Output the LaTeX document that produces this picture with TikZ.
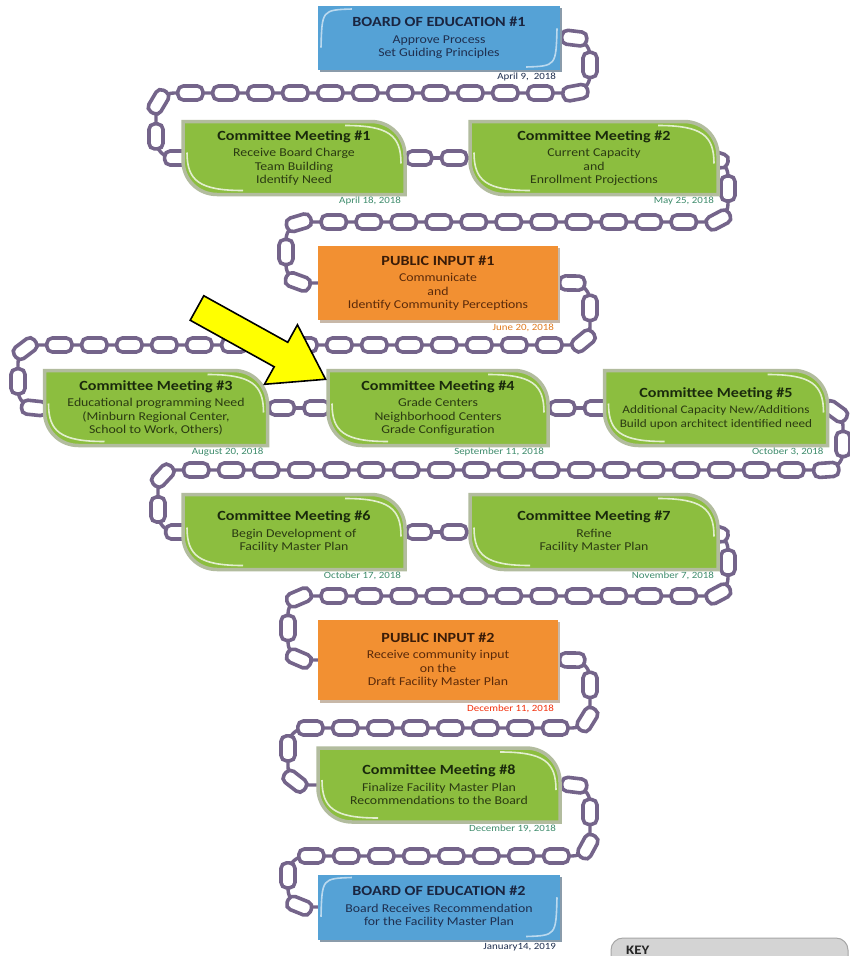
\documentclass[tikz,border=0pt]{standalone}
\usepackage{fontspec}
\setmainfont{Carlito}[FakeStretch=1.15]
\usetikzlibrary{decorations.markings}
\pgfdeclarelayer{background}
\pgfsetlayers{background,main}
\definecolor{cmgreen}{HTML}{8CBE3F}
\definecolor{cmrim}{HTML}{B2BC9E}
\definecolor{bblue}{HTML}{55A2D6}
\definecolor{bshadow}{HTML}{8A9BAA}
\definecolor{porange}{HTML}{F29032}
\definecolor{pshadow}{HTML}{C8B8A8}
\definecolor{chainc}{HTML}{74648A}
\definecolor{cmtitle}{HTML}{1A2A0C}
\definecolor{cmbody}{HTML}{2B3B12}
\definecolor{btitle}{HTML}{1A2540}
\definecolor{bbody}{HTML}{1F2F4F}
\definecolor{ptitle}{HTML}{3A1C08}
\definecolor{pbody}{HTML}{5B2A0A}
\definecolor{cmdatec}{HTML}{3E8C6C}
\definecolor{bdatec}{HTML}{1F2F4F}
\definecolor{pdatec}{HTML}{E07B20}
\definecolor{arrowyellow}{HTML}{FFFF00}
\definecolor{keygray}{HTML}{D4D4D4}
\tikzset{
  boxtext/.style={inner sep=0pt, align=center, font=\fontsize{12}{13.5}\selectfont},
  datest/.style={inner sep=0pt, font=\fontsize{9.5}{11}\selectfont},
  link/.style={draw=chainc, fill=white, line width=3.6, rounded corners=5.5},
  chainpath/.style={draw=chainc, line width=3.4, rounded corners=18,
    decoration={markings, mark=between positions 14pt and 1 step 35pt with {\draw[link] (-12.5,-7) rectangle (12.5,7);}},
    postaction={decorate}},
  hilite/.style={draw=white, opacity=0.75, line width=1.6},
}
\newcommand\ttl[2]{{\fontsize{14}{16}\selectfont\bfseries\color{#1}#2}}
% name, x, y, w, h, text, date
\newcommand\greenbox[7]{%
  \begin{scope}[shift={(#2,#3)}]
    \path[fill=cmgreen, draw=cmrim, line width=3.5] ({-#4/2},{-#5/2}) -- ({#4/2-34},{-#5/2}) .. controls ({#4/2-15},{-#5/2}) and ({#4/2},{-#5/2+15}) .. ({#4/2},{-#5/2+34}) -- ({#4/2},{#5/2}) -- ({-#4/2+34},{#5/2}) .. controls ({-#4/2+15},{#5/2}) and ({-#4/2},{#5/2-15}) .. ({-#4/2},{#5/2-34}) -- cycle;
    \draw[hilite] ({-#4/2+4},{#5/2-42}) .. controls ({-#4/2+4},{#5/2-14}) and ({-#4/2+16},{#5/2-4}) .. ({-#4/2+60},{#5/2-4});
    \draw[hilite] ({#4/2-60},{-#5/2+4}) .. controls ({#4/2-16},{-#5/2+4}) and ({#4/2-4},{-#5/2+14}) .. ({#4/2-4},{-#5/2+42});
  \end{scope}
  \node[boxtext, text=cmbody, minimum width=#4, minimum height=#5] (#1) at (#2,#3) {#6};
  \node[datest, text=cmdatec, anchor=north east] (#1d) at ([xshift=-4pt,yshift=-2pt]#1.south east) {#7};
}
\newcommand\bluebox[7]{%
  \begin{scope}[shift={(#2,#3)}]
    \fill[bshadow] ({-#4/2+2},{-#5/2+2}) rectangle ({#4/2+2},{#5/2+2});
    \fill[bblue] ({-#4/2},{-#5/2}) rectangle ({#4/2},{#5/2});
    \draw[hilite, opacity=0.6] ({-#4/2+3},{#5/2*0.3}) .. controls ({-#4/2+4},{-#5/2+4}) .. ({-#4/2+#4*0.14},{-#5/2+3});
    \draw[hilite, opacity=0.6] ({#4/2-3},{-#5/2*0.3}) .. controls ({#4/2-4},{#5/2-4}) .. ({#4/2-#4*0.14},{#5/2-3});
  \end{scope}
  \node[boxtext, text=bbody, minimum width=#4, minimum height=#5] (#1) at (#2,#3) {#6};
  \node[datest, text=bdatec, anchor=north east] (#1d) at ([xshift=-4pt,yshift=-3pt]#1.south east) {#7};
}
\newcommand\orangebox[8]{%
  \begin{scope}[shift={(#2,#3)}]
    \fill[pshadow] ({-#4/2+2},{-#5/2+2}) rectangle ({#4/2+2},{#5/2+3});
    \fill[porange] ({-#4/2},{-#5/2}) rectangle ({#4/2},{#5/2});
  \end{scope}
  \node[boxtext, text=pbody, minimum width=#4, minimum height=#5] (#1) at (#2,#3) {#6};
  \node[datest, text=#8, anchor=north east] (#1d) at ([xshift=-4pt,yshift=-4pt]#1.south east) {#7};
}
\begin{document}
\begin{tikzpicture}[x=1pt,y=-1pt]
\useasboundingbox (0,0) rectangle (850,956);
\begin{pgfonlayer}{background}
  \fill[white] (0,0) rectangle (850,956);
\end{pgfonlayer}

\bluebox{b1}{439}{38}{242}{64}{\ttl{btitle}{BOARD OF EDUCATION \#1}\\[3pt] Approve Process\\ Set Guiding Principles}{April 9,\ \ 2018}

\greenbox{cm1}{294}{158}{222}{73}{\ttl{cmtitle}{Committee Meeting \#1}\\[3pt] Receive Board Charge\\ Team Building\\ Identify Need}{April 18, 2018}
\greenbox{cm2}{594}{158}{248}{73}{\ttl{cmtitle}{Committee Meeting \#2}\\[3pt] Current Capacity\\ and\\ Enrollment Projections}{May 25, 2018}

\orangebox{pi1}{438}{283}{240}{74}{\ttl{ptitle}{PUBLIC INPUT \#1}\\[3pt] Communicate\\ and\\ Identify Community Perceptions}{June 20, 2018}{pdatec}

\greenbox{cm3}{156}{408}{223}{75}{\ttl{cmtitle}{Committee Meeting \#3}\\[3pt] Educational programming Need\\ (Minburn Regional Center,\\ School to Work, Others)}{August 20, 2018}
\greenbox{cm4}{438}{408}{220}{75}{\ttl{cmtitle}{Committee Meeting \#4}\\[3pt] Grade Centers\\ Neighborhood Centers\\ Grade Configuration}{September 11, 2018}
\greenbox{cm5}{716}{408}{223}{75}{\ttl{cmtitle}{Committee Meeting \#5}\\[3pt] {\fontsize{11.5}{13.5}\selectfont Additional Capacity New/Additions}\\ {\fontsize{11.5}{13.5}\selectfont Build upon architect identified need}}{October 3, 2018}

\greenbox{cm6}{294}{532}{222}{75}{\ttl{cmtitle}{Committee Meeting \#6}\\[3pt] Begin Development of\\ Facility Master Plan}{October 17, 2018}
\greenbox{cm7}{594}{532}{248}{75}{\ttl{cmtitle}{Committee Meeting \#7}\\[3pt] Refine\\ Facility Master Plan}{November 7, 2018}

\orangebox{pi2}{438}{660}{240}{80}{\ttl{ptitle}{PUBLIC INPUT \#2}\\[3pt] Receive community input\\ on the\\ Draft Facility Master Plan}{December 11, 2018}{red!60!pdatec}

\greenbox{cm8}{439}{785}{242}{74}{\ttl{cmtitle}{Committee Meeting \#8}\\[3pt] Finalize Facility Master Plan\\ Recommendations to the Board}{December 19, 2018}

\bluebox{b2}{439}{907}{242}{65}{\ttl{btitle}{BOARD OF EDUCATION \#2}\\[3pt] Board Receives Recommendation\\ for the Facility Master Plan}{January14, 2019}

\begin{pgfonlayer}{background}
  \draw[chainpath] (b1.east) -- (590,38) -- (590,93) -- (156,93) -- (156,158) -- (cm1.west);
  \draw[chainpath] (cm1.east) -- (cm2.west);
  \draw[chainpath] (cm2.east) -- (728,158) -- (728,222) -- (286,222) -- (286,283) -- (pi1.west);
  \draw[chainpath] (pi1.east) -- (590,283) -- (590,345) -- (18,345) -- (18,408) -- (cm3.west);
  \draw[chainpath] (cm3.east) -- (cm4.west);
  \draw[chainpath] (cm4.east) -- (cm5.west);
  \draw[chainpath] (cm5.east) -- (843,408) -- (843,470) -- (158,470) -- (158,532) -- (cm6.west);
  \draw[chainpath] (cm6.east) -- (cm7.west);
  \draw[chainpath] (cm7.east) -- (728,532) -- (728,596) -- (288,596) -- (288,660) -- (pi2.west);
  \draw[chainpath] (pi2.east) -- (590,660) -- (590,728) -- (288,728) -- (288,785) -- (cm8.west);
  \draw[chainpath] (cm8.east) -- (590,785) -- (590,856) -- (288,856) -- (288,907) -- (b2.west);
\end{pgfonlayer}

% yellow arrow
\begin{scope}[shift={(197,308)}, rotate=-29]
  \filldraw[fill=arrowyellow, draw=black, line width=1.6, line join=miter]
    (0,-14) -- (96,-14) -- (96,-34) -- (147,0) -- (96,34) -- (96,14) -- (0,14) -- cycle;
\end{scope}

% key
\draw[fill=keygray, draw=gray!70, line width=1, rounded corners=12] (611,938) rectangle (848,1000);
\node[inner sep=0pt, anchor=west, font=\fontsize{13}{15}\selectfont\bfseries, text=black!85] (key) at (626,950) {KEY};
\end{tikzpicture}
\end{document}
